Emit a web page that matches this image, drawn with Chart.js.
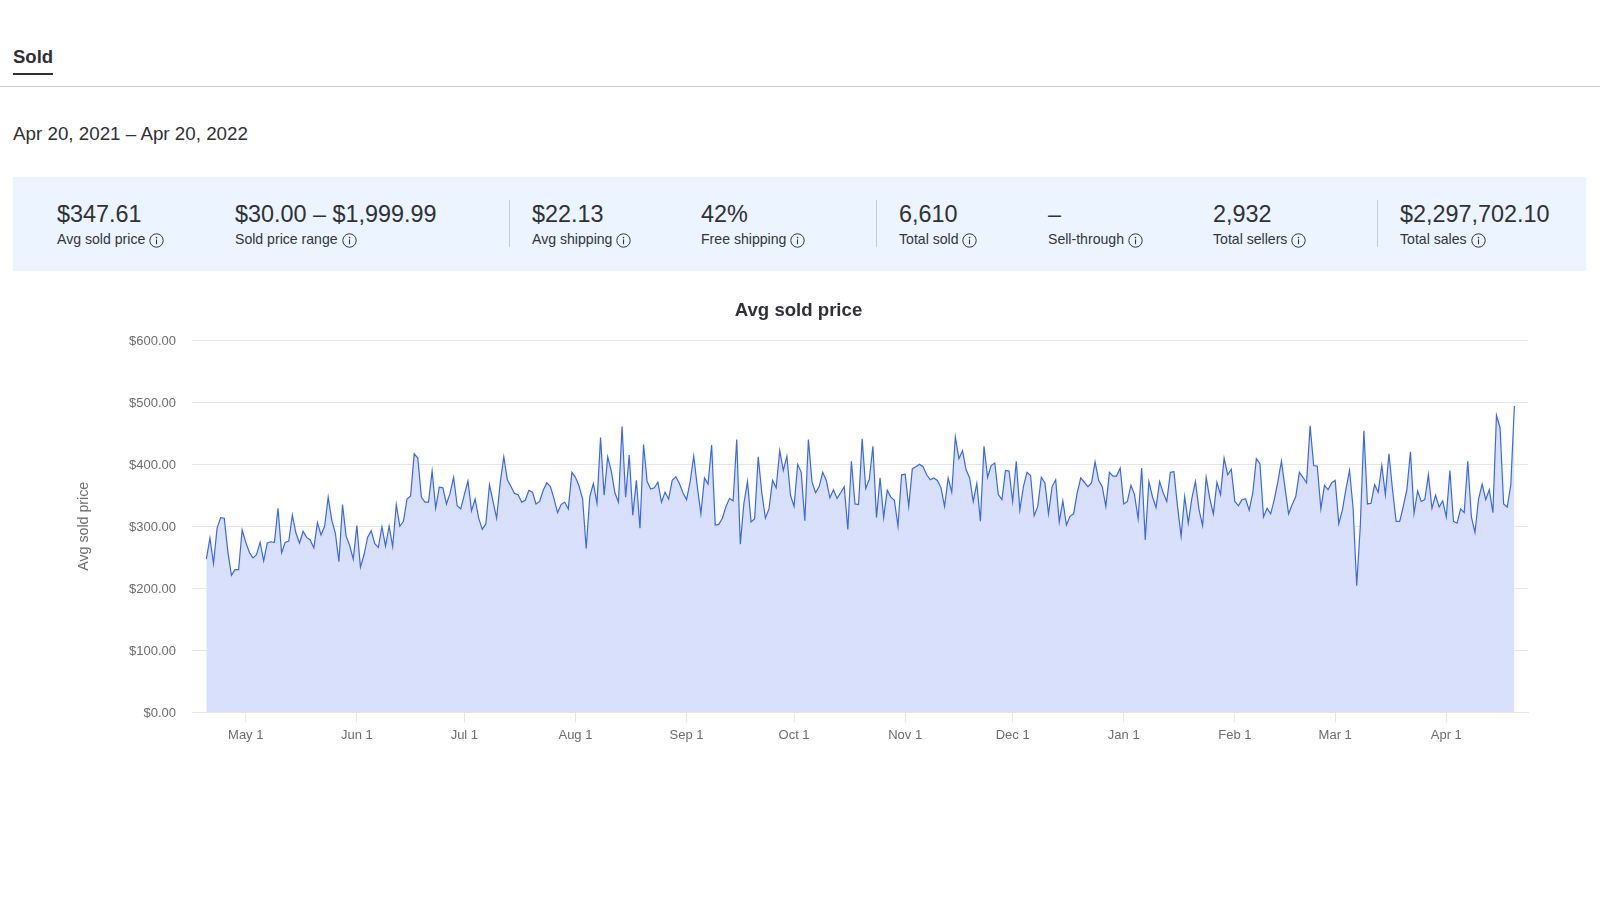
<!DOCTYPE html>
<html>
<head>
<meta charset="utf-8">
<title>Sold</title>
<script src="https://cdn.jsdelivr.net/npm/chart.js@4"></script>
<style>
  html, body { margin: 0; padding: 0; background: #fff; }
  body { width: 1600px; height: 900px; position: relative; overflow: hidden; font-family: "Liberation Sans", Arial, sans-serif; color: #2f3136; }
  .abs { position: absolute; white-space: nowrap; }
  .tab { left: 13px; top: 45px; font-size: 18.5px; line-height: 24px; font-weight: 700; }
  .tab-line { left: 13px; top: 73px; width: 40px; height: 2px; background: #2f3136; }
  .rule { left: 0; top: 85.5px; width: 1600px; height: 1px; background: #c9c9c9; }
  .range { left: 13px; top: 122px; font-size: 18.8px; line-height: 24px; }
  .band { left: 13px; top: 177px; width: 1573px; height: 93.5px; background: #ebf4ff; }
  .divider { top: 200px; width: 1px; height: 47px; background: #c6ccd4; }
  .stat { top: 199px; }
  .stat b { display: block; font-weight: 400; font-size: 23.4px; line-height: 30px; }
  .stat span { display: block; font-size: 14.1px; line-height: 20px; color: #33363b; }
  .stat svg { width: 15px; height: 15px; vertical-align: -3.5px; margin-left: 0; }
  #chart { position: absolute; left: 0; top: 0; }
</style>
</head>
<body>
<svg width="0" height="0" style="position:absolute">
  <symbol id="info" viewBox="0 0 15 15">
    <circle cx="7.5" cy="7.5" r="6.7" fill="none" stroke="#33363b" stroke-width="1"/>
    <circle cx="7.5" cy="4.6" r="0.8" fill="#33363b"/>
    <rect x="6.95" y="6.4" width="1.1" height="4.8" fill="#33363b"/>
  </symbol>
</svg>

<div class="abs tab">Sold</div>
<div class="abs tab-line"></div>
<div class="abs rule"></div>
<div class="abs range">Apr 20, 2021 – Apr 20, 2022</div>

<div class="abs band"></div>
<div class="abs divider" style="left:509px"></div>
<div class="abs divider" style="left:876px"></div>
<div class="abs divider" style="left:1377px"></div>

<div class="abs stat" style="left:57px"><b>$347.61</b><span>Avg sold price <svg><use href="#info"/></svg></span></div>
<div class="abs stat" style="left:235px"><b>$30.00 – $1,999.99</b><span>Sold price range <svg><use href="#info"/></svg></span></div>
<div class="abs stat" style="left:532px"><b>$22.13</b><span>Avg shipping <svg><use href="#info"/></svg></span></div>
<div class="abs stat" style="left:701px"><b>42%</b><span>Free shipping <svg><use href="#info"/></svg></span></div>
<div class="abs stat" style="left:899px"><b>6,610</b><span>Total sold <svg><use href="#info"/></svg></span></div>
<div class="abs stat" style="left:1048px"><b>–</b><span>Sell-through <svg><use href="#info"/></svg></span></div>
<div class="abs stat" style="left:1213px"><b>2,932</b><span>Total sellers <svg><use href="#info"/></svg></span></div>
<div class="abs stat" style="left:1400px"><b>$2,297,702.10</b><span>Total sales <svg><use href="#info"/></svg></span></div>

<canvas id="chart" width="1600" height="900"></canvas>

<script>
// one value per day, Apr 20 2021 to Apr 20 2022
const avgSoldPrice = [
  247, 281, 240, 297, 314, 313, 259, 221, 230, 230, 294, 274, 258, 249, 254, 274,
  244, 273, 275, 274, 329, 257, 274, 276, 318, 289, 273, 292, 282, 278, 265, 306,
  286, 300, 347, 310, 289, 243, 335, 284, 269, 247, 301, 234, 254, 282, 293, 272,
  266, 299, 268, 300, 267, 335, 300, 308, 344, 349, 417, 410, 347, 339, 339, 389,
  329, 363, 362, 336, 353, 379, 333, 328, 351, 373, 325, 344, 313, 295, 304, 367,
  340, 313, 370, 412, 375, 364, 353, 351, 339, 342, 358, 355, 336, 340, 358, 370,
  364, 345, 322, 335, 339, 328, 387, 379, 365, 344, 264, 348, 369, 337, 443, 350,
  412, 389, 354, 339, 461, 347, 415, 318, 374, 297, 432, 372, 360, 362, 371, 339,
  355, 344, 374, 380, 369, 354, 343, 372, 413, 364, 320, 378, 368, 431, 302, 303,
  313, 332, 345, 341, 440, 271, 337, 372, 307, 312, 412, 354, 313, 328, 374, 362,
  422, 390, 413, 350, 332, 400, 387, 309, 440, 372, 354, 364, 387, 374, 346, 359,
  345, 354, 364, 295, 405, 336, 335, 441, 361, 376, 429, 314, 378, 314, 358, 347,
  342, 300, 383, 384, 332, 393, 396, 400, 396, 383, 375, 378, 374, 362, 332, 378,
  355, 444, 409, 422, 391, 378, 340, 369, 308, 429, 379, 398, 402, 351, 343, 390,
  389, 340, 405, 326, 364, 387, 382, 317, 332, 379, 370, 320, 364, 375, 307, 341,
  302, 316, 320, 354, 378, 371, 364, 370, 404, 374, 364, 332, 387, 381, 381, 394,
  336, 340, 366, 351, 312, 394, 278, 372, 348, 330, 372, 354, 340, 387, 388, 332,
  284, 348, 305, 345, 372, 327, 301, 379, 345, 320, 371, 351, 410, 383, 392, 340,
  333, 343, 344, 326, 354, 409, 401, 315, 329, 320, 343, 372, 405, 362, 320, 335,
  348, 387, 379, 370, 462, 398, 397, 328, 366, 359, 370, 374, 304, 326, 360, 390,
  329, 204, 300, 454, 336, 337, 367, 355, 398, 351, 417, 359, 308, 308, 332, 359,
  420, 321, 357, 340, 343, 383, 329, 350, 331, 341, 315, 390, 308, 305, 328, 322,
  405, 315, 290, 344, 368, 343, 359, 322, 479, 459, 336, 331, 367, 494
];
const monthTickDays = [11, 42, 72, 103, 134, 164, 195, 225, 256, 287, 315, 346];
const monthTickLabels = ["May 1", "Jun 1", "Jul 1", "Aug 1", "Sep 1", "Oct 1", "Nov 1", "Dec 1", "Jan 1", "Feb 1", "Mar 1", "Apr 1"];
const priceTicks = [0, 100, 200, 300, 400, 500, 600];

const FONT = "'Liberation Sans', Arial, sans-serif";
const AXIS_TEXT = "#6e6e6e";
const GRID = "#e6e6e6";

new Chart(document.getElementById("chart"), {
  type: "line",
  data: {
    datasets: [
      {
        label: "Avg sold price",
        data: avgSoldPrice.map((price, day) => ({ x: day, y: price })),
        borderColor: "#3a68e8",
        backgroundColor: "#d8e0fb",
        borderWidth: 1.2,
        pointRadius: 0,
        tension: 0,
        fill: "origin",
      },
    ],
  },
  options: {
    responsive: false,
    animation: false,
    layout: { padding: { left: 69, right: 72, top: 299.5, bottom: 0 } },
    plugins: {
      legend: { display: false },
      tooltip: { enabled: false },
      title: {
        display: true,
        text: "Avg sold price",
        color: "#2f3136",
        font: { family: FONT, size: 18.6, weight: "bold" },
        padding: { top: 0, bottom: 18.5 },
      },
    },
    scales: {
      x: {
        type: "linear",
        min: -4,
        max: 368.8,
        border: { color: GRID },
        grid: { drawOnChartArea: false, drawTicks: true, tickLength: 10, color: GRID },
        afterBuildTicks: (scale) => {
          scale.ticks = monthTickDays.map((day) => ({ value: day }));
        },
        afterFit: (scale) => {
          scale.height = 187.8;
        },
        ticks: {
          autoSkip: false,
          maxRotation: 0,
          padding: 5,
          color: AXIS_TEXT,
          font: { family: FONT, size: 13 },
          callback: (value) => monthTickLabels[monthTickDays.indexOf(value)],
        },
      },
      y: {
        min: 0,
        max: 600,
        border: { display: false },
        grid: { color: GRID, tickLength: 0, drawTicks: false },
        afterBuildTicks: (scale) => {
          scale.ticks = priceTicks.map((price) => ({ value: price }));
        },
        afterFit: (scale) => {
          scale.width = 123;
        },
        title: {
          display: true,
          text: "Avg sold price",
          color: AXIS_TEXT,
          font: { family: FONT, size: 14.2 },
          padding: { top: 7, bottom: 0 },
        },
        ticks: {
          padding: 16,
          labelOffset: 1.2,
          color: AXIS_TEXT,
          font: { family: FONT, size: 13 },
          callback: (value) => "$" + value.toFixed(2),
        },
      },
    },
  },
});
</script>
</body>
</html>
